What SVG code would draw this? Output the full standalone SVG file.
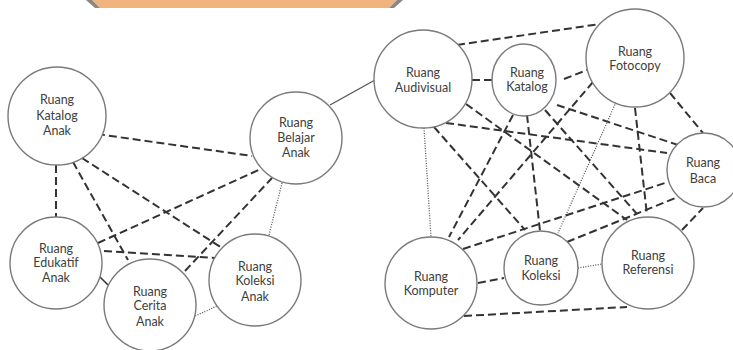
<svg xmlns="http://www.w3.org/2000/svg" width="733" height="350" viewBox="0 0 733 350">
  <defs>
    <style>
      .node { fill: #ffffff; stroke: #7a7a7a; stroke-width: 1.4; }
      .lbl { font-family: Lato, "Open Sans", "Liberation Sans", sans-serif; font-size: 12.5px; fill: #404040; text-anchor: middle; }
      .dash { stroke: #333333; stroke-width: 2; stroke-dasharray: 8 4; fill: none; }
      .dot { stroke: #555555; stroke-width: 1.3; stroke-dasharray: 1 1.5; fill: none; }
      .solid { stroke: #555555; stroke-width: 1.3; fill: none; }
    </style>
  </defs>

  <rect width="733" height="350" fill="#ffffff"/>

  <!-- header banner (bottom edge only) -->
  <g id="banner">
    <polygon points="92,0 397,0 389,8 100,8" fill="#f2b47e"/>
    <polygon points="86,0 92,0 100,8 95,8" fill="#8a8784"/>
    <polygon points="397,0 403,0 394,8 389,8" fill="#8a8784"/>
  </g>

  <!-- connectors -->
  <g id="connectors">
    <!-- children's area -->
    <line class="dash" x1="97" y1="134" x2="252" y2="156"/>
    <line class="dash" x1="56" y1="165" x2="56" y2="217"/>
    <line class="dash" x1="73" y1="162" x2="128" y2="260"/>
    <line class="dash" x1="82" y1="158" x2="222" y2="248"/>
    <line class="dash" x1="98" y1="243" x2="263" y2="168"/>
    <line class="dash" x1="185" y1="271" x2="272" y2="178"/>
    <line class="dash" x1="104" y1="251" x2="215" y2="258"/>
    <line class="solid" x1="100" y1="277" x2="108" y2="285" style="stroke:#333;stroke-width:1.6"/>
    <line class="dot" x1="282" y1="183" x2="269" y2="235"/>
    <line class="dot" x1="193" y1="317" x2="217" y2="306"/>
    <line class="solid" x1="330" y1="105" x2="375" y2="80"/>

    <!-- main area -->
    <line class="dash" x1="457" y1="45" x2="600" y2="24"/>
    <line class="dash" x1="472" y1="80" x2="492" y2="80"/>
    <line class="dash" x1="564" y1="79" x2="587" y2="70"/>
    <line class="dot" x1="424" y1="128" x2="431" y2="237"/>
    <line class="dash" x1="434" y1="127" x2="525" y2="230"/>
    <line class="dash" x1="466" y1="104" x2="627" y2="220"/>
    <line class="dash" x1="446" y1="123" x2="667" y2="153"/>
    <line class="dash" x1="513" y1="115" x2="449" y2="237"/>
    <line class="dash" x1="527" y1="115" x2="540" y2="231"/>
    <line class="dash" x1="545" y1="110" x2="637" y2="214"/>
    <line class="dash" x1="557" y1="105" x2="678" y2="145"/>
    <line class="dash" x1="593" y1="82" x2="458" y2="240"/>
    <line class="dot" x1="617" y1="100" x2="558" y2="233"/>
    <line class="dash" x1="635" y1="108" x2="647" y2="215"/>
    <line class="dash" x1="670" y1="93" x2="703" y2="133"/>
    <line class="dash" x1="463" y1="249" x2="668" y2="182"/>
    <line class="dash" x1="567" y1="242" x2="678" y2="197"/>
    <line class="dash" x1="682" y1="230" x2="703" y2="208"/>
    <line class="dash" x1="478" y1="283" x2="504" y2="278"/>
    <line class="dot" x1="578" y1="268" x2="602" y2="264"/>
    <line class="dash" x1="464" y1="316" x2="627" y2="307"/>
  </g>

  <!-- children's area rooms -->
  <g id="ruang-katalog-anak">
    <circle class="node" cx="57" cy="116" r="49"/>
    <text class="lbl" x="57" y="104">Ruang</text>
    <text class="lbl" x="57" y="120">Katalog</text>
    <text class="lbl" x="57" y="135">Anak</text>
  </g>
  <g id="ruang-belajar-anak">
    <circle class="node" cx="296" cy="138" r="46"/>
    <text class="lbl" x="296" y="127">Ruang</text>
    <text class="lbl" x="296" y="142">Belajar</text>
    <text class="lbl" x="296" y="157">Anak</text>
  </g>
  <g id="ruang-edukatif-anak">
    <circle class="node" cx="56" cy="263" r="46"/>
    <text class="lbl" x="56" y="253">Ruang</text>
    <text class="lbl" x="56" y="267">Edukatif</text>
    <text class="lbl" x="56" y="282">Anak</text>
  </g>
  <g id="ruang-cerita-anak">
    <circle class="node" cx="150" cy="305" r="46"/>
    <text class="lbl" x="150" y="296">Ruang</text>
    <text class="lbl" x="150" y="310">Cerita</text>
    <text class="lbl" x="150" y="326">Anak</text>
  </g>
  <g id="ruang-koleksi-anak">
    <circle class="node" cx="255" cy="280" r="46"/>
    <text class="lbl" x="255" y="271">Ruang</text>
    <text class="lbl" x="255" y="285">Koleksi</text>
    <text class="lbl" x="255" y="301">Anak</text>
  </g>

  <!-- main area rooms -->
  <g id="ruang-audivisual">
    <circle class="node" cx="423" cy="79" r="49"/>
    <text class="lbl" x="423" y="77">Ruang</text>
    <text class="lbl" x="423" y="92">Audivisual</text>
  </g>
  <g id="ruang-katalog">
    <ellipse class="node" cx="524" cy="80" rx="32" ry="36"/>
    <text class="lbl" x="527" y="77">Ruang</text>
    <text class="lbl" x="527" y="91">Katalog</text>
  </g>
  <g id="ruang-fotocopy">
    <circle class="node" cx="635" cy="58" r="49"/>
    <text class="lbl" x="635" y="56">Ruang</text>
    <text class="lbl" x="635" y="70">Fotocopy</text>
  </g>
  <g id="ruang-baca">
    <circle class="node" cx="704" cy="170" r="37"/>
    <text class="lbl" x="703" y="167">Ruang</text>
    <text class="lbl" x="703" y="183">Baca</text>
  </g>
  <g id="ruang-komputer">
    <circle class="node" cx="431" cy="283" r="46"/>
    <text class="lbl" x="431" y="281">Ruang</text>
    <text class="lbl" x="431" y="295">Komputer</text>
  </g>
  <g id="ruang-koleksi">
    <circle class="node" cx="541" cy="268" r="37"/>
    <text class="lbl" x="541" y="265">Ruang</text>
    <text class="lbl" x="541" y="280">Koleksi</text>
  </g>
  <g id="ruang-referensi">
    <circle class="node" cx="648" cy="263" r="46"/>
    <text class="lbl" x="648" y="260">Ruang</text>
    <text class="lbl" x="648" y="274">Referensi</text>
  </g>
</svg>
